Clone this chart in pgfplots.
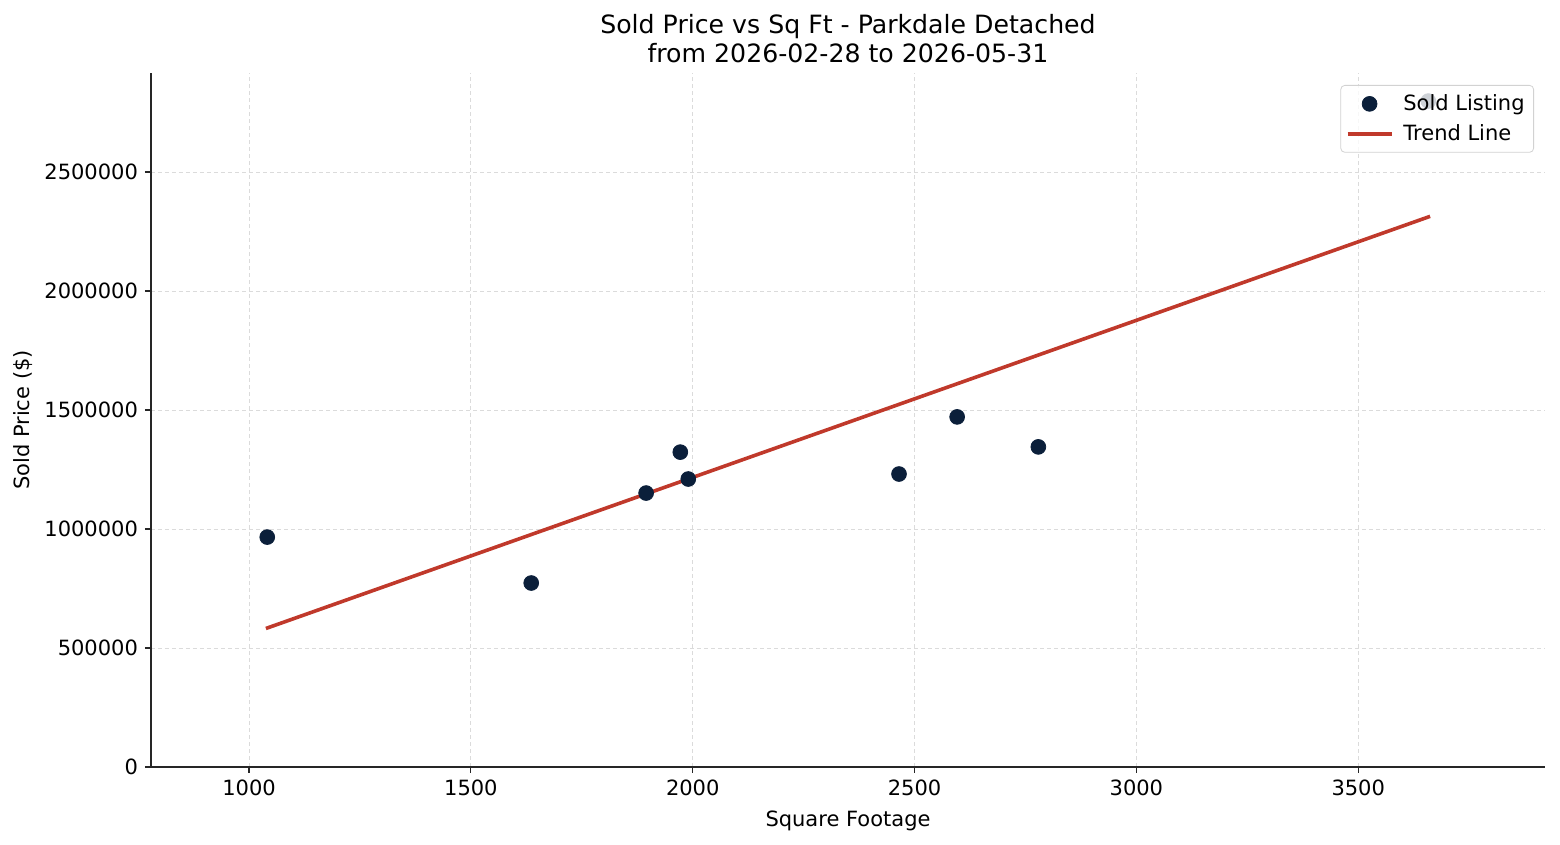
\documentclass[border=0pt]{standalone}
\usepackage{pgfplots}
\pgfplotsset{compat=1.18}
\usepackage{fontspec}
\setmainfont{DejaVu Sans}
\definecolor{navy}{HTML}{0B1F3A}
\definecolor{trend}{HTML}{C0392B}
% legend images: a single dot, and a wide line segment
\pgfplotsset{
  dotlegend/.style={legend image code/.code={\draw[##1, opacity=1] plot coordinates {(11pt,0pt)};}},
  linelegend/.style={legend image code/.code={\draw[##1, opacity=1] (0pt,0pt) -- (22pt,0pt);}},
}
\begin{document}
\begin{tikzpicture}[x=1pt,y=1pt]
\path (0,0) rectangle (780,422.5);
\begin{axis}[
  at={(75.5pt,39pt)}, anchor=south west,
  scale only axis, width=697pt, height=347pt,
  xmin=779, xmax=3921, ymin=0, ymax=2916000,
  axis x line*=bottom, axis y line*=left,
  axis line style={line width=0.7pt, black!85, -},
  xtick={1000,1500,2000,2500,3000,3500},
  ytick={0,500000,1000000,1500000,2000000,2500000},
  scaled ticks=false,
  /pgf/number format/.cd, fixed, 1000 sep={}, assume math mode=true, /pgfplots/.cd,
  tick style={black!85, line width=0.6pt},
  major tick length=3pt, tick align=outside,
  ticklabel style={font=\fontsize{10.5}{12}\selectfont},
  grid=major,
  major grid style={dash pattern=on 2pt off 1.5pt, gray!28, line width=0.4pt},
  xlabel={Square Footage},
  ylabel={Sold Price (\$)},
  label style={font=\fontsize{10.5}{12}\selectfont},
  xlabel style={yshift=-0.5pt},
  ylabel style={yshift=-1pt},
  title={Sold Price vs Sq Ft - Parkdale Detached\\from 2026-02-28 to 2026-05-31},
  title style={font=\fontsize{12.6}{14.5}\selectfont, align=center, yshift=-4.5pt},
  legend style={at={(1,1)}, anchor=north east, xshift=-5.5pt, yshift=-6pt,
    draw=gray!35, rounded corners=2pt, fill=white, fill opacity=0.8, text opacity=1,
    font=\fontsize{10.5}{12}\selectfont, row sep=1.5pt, column sep=3pt, inner sep=2.5pt},
  legend cell align=left,
]
\addplot[only marks, mark=*, mark size=3.7pt, color=navy, mark options={fill=navy, draw=navy}, dotlegend]
  coordinates {
  (1041, 966000)
  (1636, 773000)
  (1895, 1151000)
  (1972, 1323000)
  (1990, 1210000)
  (2465, 1231000)
  (2596, 1471000)
  (2779, 1345000)
  (3658, 2798000)
  };
\addlegendentry{Sold Listing}
\addplot[color=trend, line width=1.8pt, no marks, linelegend]
  coordinates {(1038, 582000) (3662, 2313600)};
\addlegendentry{Trend Line}
\end{axis}
\end{tikzpicture}
\end{document}
